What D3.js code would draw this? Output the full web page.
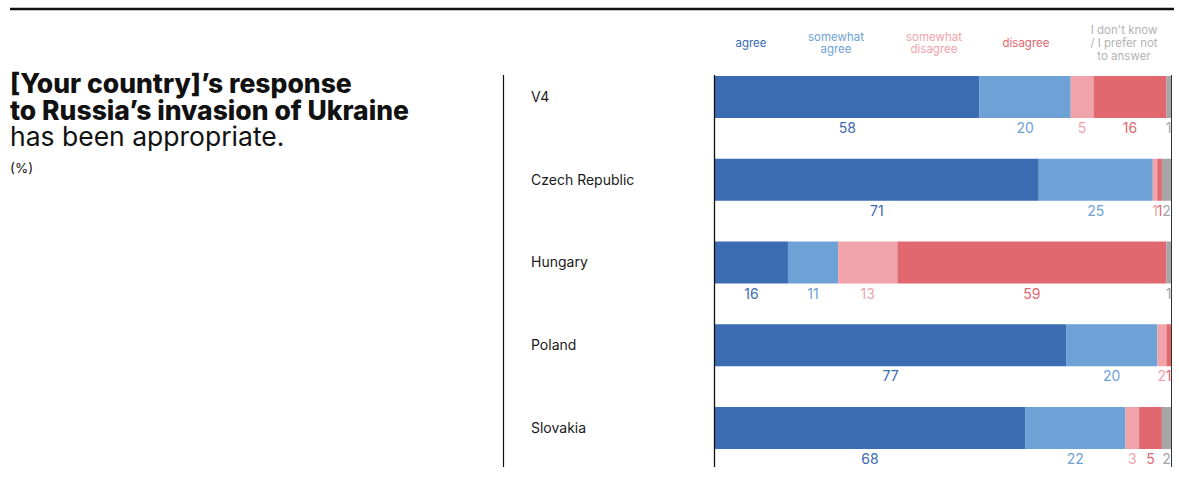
<!DOCTYPE html>
<html>
<head>
<meta charset="utf-8">
<script src="https://cdn.jsdelivr.net/npm/d3@7"></script>
<style>
  html, body { margin: 0; padding: 0; background: #fff; }
  svg { display: block; font-family: Inter, "Noto Sans", sans-serif; }
</style>
</head>
<body>
<svg id="chart" width="1179" height="492"></svg>
<script>
// Survey rows (top to bottom)
const countries = ["V4", "Czech Republic", "Hungary", "Poland", "Slovakia"];

// Answer categories and their share of respondents (%) per row
const answerKeys = ["agree", "somewhatAgree", "somewhatDisagree", "disagree", "dontKnow"];
const agree            = [58, 71, 16, 77, 68];
const somewhatAgree    = [20, 25, 11, 20, 22];
const somewhatDisagree = [5, 1, 13, 2, 3];
const disagree         = [16, 1, 59, 1, 5];
const dontKnow         = [1, 2, 1, 0, 2];

// Legend text, one entry per category (split into lines)
const legendLines = [
  ["agree"],
  ["somewhat", "agree"],
  ["somewhat", "disagree"],
  ["disagree"],
  ["I don't know", "/ I prefer not", "to answer"]
];

const titleBold = ["[Your country]\u2019s response", "to Russia\u2019s invasion of Ukraine"];
const titleRegular = "has been appropriate.";
const unitNote = "(%)";

// Styling
const barColors   = ["#3b6bb1", "#6ea1d6", "#f1a3ab", "#e1686f", "#a6a6a6"];
const labelColors = ["#3b6bb1", "#6ea1d6", "#f1a3ab", "#e1686f", "#a6a6a6"];
const legendColors = ["#3b6bb1", "#6ea1d6", "#f1a3ab", "#e1686f", "#b3b3b3"];
const legendCenters = [751, 836, 934, 1026, 1124];

const seriesByKey = { agree, somewhatAgree, somewhatDisagree, disagree, dontKnow };
const rows = countries.map((name, i) => {
  const r = { name };
  answerKeys.forEach(k => { r[k] = seriesByKey[k][i]; });
  return r;
});

const svg = d3.select("#chart");

// Top rule
svg.append("line")
  .attr("x1", 10).attr("x2", 1174)
  .attr("y1", 9).attr("y2", 9)
  .attr("stroke", "#111").attr("stroke-width", 2.5);

// Title block
const title = svg.append("text").attr("x", 10).attr("fill", "#111");
titleBold.forEach((t, i) => {
  title.append("tspan").attr("x", 10).attr("y", 93 + i * 27)
    .attr("font-size", 26.5).attr("font-weight", 800).text(t);
});
title.append("tspan").attr("x", 10).attr("y", 146)
  .attr("font-size", 26.5).attr("font-weight", 400).text(titleRegular);
svg.append("text").attr("x", 10).attr("y", 173)
  .attr("font-size", 13.5).attr("fill", "#111").text(unitNote);

// Scales
const x = d3.scaleLinear().domain([0, 100]).range([715, 1171]);
const y = d3.scaleBand().domain(countries).range([76, 449])
  .paddingInner(0.4924).paddingOuter(0);

const stack = d3.stack().keys(answerKeys);
const layers = stack(rows);

// Vertical guides
const guideTop = 75, guideBottom = 467;
svg.append("line").attr("x1", 503.5).attr("x2", 503.5)
  .attr("y1", guideTop).attr("y2", guideBottom)
  .attr("stroke", "#111").attr("stroke-width", 1.2);

// Bars
const layerG = svg.append("g").selectAll("g").data(layers).join("g")
  .attr("fill", (d, i) => barColors[i]);
layerG.selectAll("rect").data(d => d).join("rect")
  .attr("x", d => x(d[0]))
  .attr("width", d => x(d[1]) - x(d[0]))
  .attr("y", d => y(d.data.name))
  .attr("height", y.bandwidth());

// Value labels under each segment
const labelG = svg.append("g").attr("font-size", 14).attr("text-anchor", "middle");
layers.forEach((layer, i) => {
  labelG.selectAll(null).data(layer.filter(d => d[1] - d[0] > 0)).join("text")
    .attr("x", d => x((d[0] + d[1]) / 2))
    .attr("y", d => y(d.data.name) + y.bandwidth() + 10)
    .attr("dy", "0.36em")
    .attr("fill", labelColors[i])
    .text(d => d[1] - d[0]);
});

// Axis lines at both ends of the bars
svg.append("line").attr("x1", 714.5).attr("x2", 714.5)
  .attr("y1", guideTop).attr("y2", guideBottom)
  .attr("stroke", "#111").attr("stroke-width", 1.3);
svg.append("line").attr("x1", 1171.5).attr("x2", 1171.5)
  .attr("y1", guideTop).attr("y2", guideBottom)
  .attr("stroke", "#333").attr("stroke-width", 1);

// Country names
svg.append("g").selectAll("text").data(countries).join("text")
  .attr("x", 531)
  .attr("y", d => y(d) + y.bandwidth() / 2)
  .attr("dy", "0.35em")
  .attr("font-size", 14)
  .attr("fill", "#1a1a1a")
  .text(d => d);

// Legend
const legend = svg.append("g").attr("font-size", 11.5).attr("text-anchor", "middle");
legendLines.forEach((lines, i) => {
  const lh = 12.7;
  const top = 43 - (lines.length - 1) * lh / 2;
  const t = legend.append("text").attr("fill", legendColors[i]);
  lines.forEach((ln, j) => {
    t.append("tspan").attr("x", legendCenters[i])
      .attr("y", top + j * lh).attr("dy", "0.35em").text(ln);
  });
});
</script>
</body>
</html>
